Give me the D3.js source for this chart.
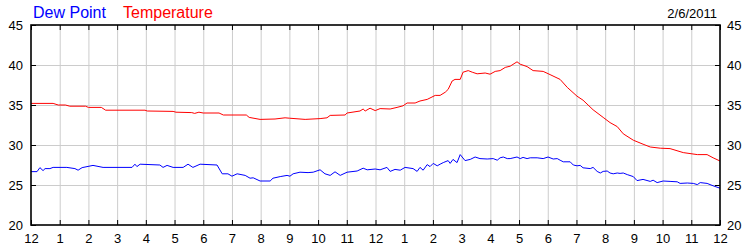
<!DOCTYPE html>
<html>
<head>
<meta charset="utf-8">
<script src="https://cdn.jsdelivr.net/npm/d3@7/dist/d3.min.js"></script>
<style>
  body { margin: 0; background: #fff; }
  svg { display: block; font-family: "Liberation Sans", Arial, sans-serif; }
  .grid line { stroke: #cccccc; stroke-width: 1; }
  .grid .domain { display: none; }
  .axis .domain { display: none; }
  .axis line { stroke: #000; }
  .axis text { font-size: 13px; fill: #000; }
</style>
</head>
<body>
<svg width="750" height="250"></svg>
<script>

// hour labels along the bottom (midnight to midnight)
var hourLabels = ["12","1","2","3","4","5","6","7","8","9","10","11",
                  "12","1","2","3","4","5","6","7","8","9","10","11","12"];
var yTicks = [20, 25, 30, 35, 40, 45];
var dateLabel = "2/6/2011";

// temperature, hours since midnight
var tempHours = [0,0.77,0.95,1.2,1.35,1.9,2.0,2.45,2.6,3.97,4.05,4.95,5.05,5.6,5.7,5.85,6.0,6.55,6.7,7.5,
  7.6,7.98,8.5,8.85,9.0,9.55,10.07,10.31,10.42,10.94,11.01,11.46,11.57,11.64,11.81,11.99,12.16,12.51,12.75,12.96,
  13.1,13.38,13.55,13.8,14.08,14.25,14.43,14.53,14.67,14.77,14.95,15.05,15.23,15.37,15.54,15.82,15.99,16.17,16.34,16.52,
  16.69,16.93,17.04,17.28,17.49,17.84,18.08,18.43,18.68,19.02,19.23,19.58,19.93,20.17,20.42,20.63,20.98,21.32,21.57,21.92,
  22.26,22.72,23.21,23.55,23.76,24];
var tempValues = [35.2,35.2,35.0,35.0,34.85,34.85,34.7,34.7,34.35,34.35,34.25,34.2,34.1,34.05,33.95,34.1,34.0,34.0,33.75,33.75,
  33.45,33.2,33.25,33.4,33.35,33.2,33.3,33.4,33.7,33.75,34.0,34.25,34.5,34.25,34.6,34.3,34.55,34.5,34.7,34.9,
  35.25,35.25,35.5,35.7,36.2,36.2,36.6,36.95,38.0,38.2,38.2,39.1,39.3,39.1,38.9,39.0,38.85,39.2,39.3,39.7,
  39.85,40.4,40.1,39.8,39.3,39.2,38.8,38.2,37.2,36.1,35.6,34.4,33.45,32.8,32.3,31.4,30.6,30.1,29.75,29.6,
  29.55,29.05,28.8,28.8,28.4,28.0];

// dew point, hours since midnight
var dewHours = [0,0.21,0.31,0.42,0.49,0.66,0.77,1.25,1.53,1.64,1.78,2.16,2.51,3.52,3.62,3.69,3.8,4.49,4.6,4.74,
  4.95,5.3,5.47,5.64,5.89,6.48,6.66,6.86,7.0,7.18,7.46,7.63,7.74,7.98,8.33,8.43,8.68,8.92,9.02,9.13,
  9.37,9.65,9.83,10.07,10.24,10.42,10.59,10.77,11.01,11.36,11.57,11.71,11.99,12.16,12.4,12.51,12.68,12.86,13.03,13.31,
  13.45,13.55,13.66,13.8,13.9,14.01,14.15,14.25,14.36,14.53,14.6,14.7,14.84,14.95,15.12,15.3,15.47,15.64,15.89,16.1,
  16.24,16.34,16.45,16.59,16.69,16.93,17.04,17.14,17.28,17.39,17.63,17.84,18.01,18.19,18.33,18.43,18.54,18.78,18.89,19.02,
  19.13,19.23,19.48,19.58,19.72,19.83,19.93,20.07,20.17,20.28,20.42,20.52,20.63,20.77,20.98,21.11,21.32,21.57,21.67,21.81,
  22.02,22.26,22.51,22.61,22.86,23.07,23.21,23.31,23.55,23.76,24];
var dewValues = [26.67,26.67,27.17,26.8,27.05,27.05,27.2,27.2,27.05,26.85,27.17,27.45,27.2,27.2,27.6,27.3,27.6,27.5,27.2,27.45,
  27.2,27.2,27.6,27.2,27.6,27.5,26.4,26.4,26.1,26.4,26.2,25.85,25.9,25.5,25.5,25.85,26.05,26.2,26.1,26.4,
  26.6,26.55,26.6,26.9,26.4,26.2,26.65,26.2,26.6,26.75,27.1,26.9,27.0,26.9,27.2,26.7,26.95,26.85,27.2,27.05,
  26.7,27.2,26.85,27.55,27.3,27.7,27.4,27.6,27.8,28.05,27.7,28.2,27.8,28.8,28.05,28.2,28.5,28.3,28.25,28.3,
  28.1,28.4,28.5,28.3,28.3,28.5,28.3,28.45,28.3,28.4,28.4,28.3,28.5,28.25,28.3,28.1,27.9,27.9,27.5,27.4,
  27.45,27.15,27.05,27.2,26.7,26.5,26.7,26.75,26.5,26.4,26.5,26.45,26.5,26.3,26.05,25.55,25.7,25.45,25.6,25.3,
  25.5,25.45,25.4,25.2,25.25,25.2,25.05,25.3,25.2,24.9,24.6];

var svg = d3.select("svg"),
    margin = {left: 31, right: 720, top: 25, bottom: 225};

var x = d3.scaleLinear().domain([0, 24]).range([margin.left, margin.right]);
var y = d3.scaleLinear().domain([20, 45]).range([margin.bottom, margin.top]);

var hours = d3.range(0, 25);

// gridlines
svg.append("g")
    .attr("class", "grid")
    .attr("transform", "translate(0," + margin.bottom + ")")
    .call(d3.axisBottom(x).tickValues(hours.slice(1, -1)).tickSize(-(margin.bottom - margin.top)).tickFormat(""));
svg.append("g")
    .attr("class", "grid")
    .attr("transform", "translate(" + margin.left + ",0)")
    .call(d3.axisLeft(y).tickValues(yTicks.slice(1, -1)).tickSize(-(margin.right - margin.left)).tickFormat(""));

// lines
var line = d3.line()
    .x(function(d) { return x(d[0]); })
    .y(function(d) { return y(d[1]); });

svg.append("path")
    .datum(d3.zip(tempHours, tempValues))
    .attr("fill", "none")
    .attr("stroke", "#ff0000")
    .attr("stroke-width", 1)
    .attr("d", line);

svg.append("path")
    .datum(d3.zip(dewHours, dewValues))
    .attr("fill", "none")
    .attr("stroke", "#0000ff")
    .attr("stroke-width", 1)
    .attr("d", line);

// axes, ticks point inward
svg.append("g")
    .attr("class", "axis")
    .attr("transform", "translate(0," + margin.bottom + ")")
    .call(d3.axisBottom(x).tickValues(hours).tickSizeInner(-5).tickSizeOuter(0)
      .tickFormat(function(d) { return hourLabels[d]; }))
    .selectAll("text").attr("y", 18).attr("dy", 0);

svg.append("g")
    .attr("class", "axis")
    .attr("transform", "translate(0," + margin.top + ")")
    .call(d3.axisTop(x).tickValues(hours).tickSizeInner(-5).tickSizeOuter(0).tickFormat(""));

svg.append("g")
    .attr("class", "axis")
    .attr("transform", "translate(" + margin.left + ",0)")
    .call(d3.axisLeft(y).tickValues(yTicks).tickSizeInner(-5).tickSizeOuter(0))
    .selectAll("text").attr("x", -8).attr("dy", "0.36em");

svg.append("g")
    .attr("class", "axis")
    .attr("transform", "translate(" + margin.right + ",0)")
    .call(d3.axisRight(y).tickValues(yTicks).tickSizeInner(-5).tickSizeOuter(0))
    .selectAll("text").attr("x", 7).attr("dy", "0.36em");

// frame
svg.append("rect")
    .attr("x", margin.left)
    .attr("y", margin.top)
    .attr("width", margin.right - margin.left)
    .attr("height", margin.bottom - margin.top)
    .attr("fill", "none")
    .attr("stroke", "#000")
    .attr("stroke-width", 1.6);

// legend and date
svg.append("text")
    .attr("x", 33).attr("y", 18)
    .attr("font-size", 16).attr("fill", "#0000ff")
    .text("Dew Point");
svg.append("text")
    .attr("x", 123).attr("y", 18)
    .attr("font-size", 16).attr("fill", "#ff0000")
    .text("Temperature");
svg.append("text")
    .attr("x", 717).attr("y", 18)
    .attr("font-size", 13).attr("text-anchor", "end").attr("fill", "#000")
    .text(dateLabel);

</script>
</body>
</html>
